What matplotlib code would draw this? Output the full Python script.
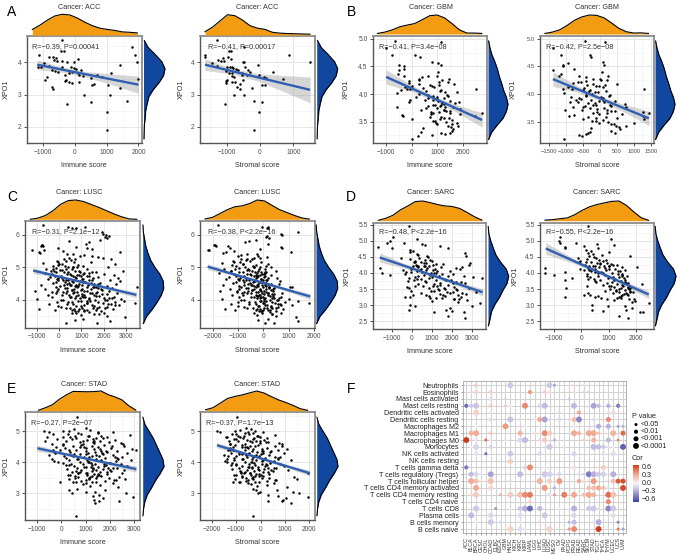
import numpy as np
import matplotlib
matplotlib.use("Agg")
import matplotlib.pyplot as plt
from matplotlib.cm import ScalarMappable
from matplotlib.colors import LinearSegmentedColormap, Normalize

plt.rcParams["font.family"] = ["Liberation Sans", "DejaVu Sans"]

W, H = 677, 556

# ---- scatter data ----
acc_xpo1 = [4.69,4.35,4.35,4.49,4.22,4.00,3.50,4.24,3.86,3.86,
            3.44,4.16,4.17,4.14,4.07,4.05,4.03,4.02,3.98,3.90,
            3.85,3.85,3.82,3.80,3.75,3.72,3.70,3.68,3.68,3.66,
            3.62,3.60,3.58,3.55,3.52,3.45,3.43,3.40,3.38,3.36,
            3.32,3.30,3.30,3.25,3.20,3.17,3.00,2.99,2.80,2.76,
            2.72,2.46,1.91,4.10,3.93,3.70,3.62,3.55,4.00,3.78]
acc_immune = [-390,-440,-340,1800,1880,1950,1970,-1110,-1160,-1060,
              -940,-810,-680,-570,-660,-560,-380,-250,-970,-800,
              -400,-100,-30,50,-700,-620,-520,1150,110,-180,
              -300,150,250,-850,500,-280,-300,-180,130,-80,
              620,560,1050,-700,1430,-670,280,1110,1640,510,
              -230,1030,1030,100,1430,-90,700,850,-10,200]
acc_stromal = [-1290,-880,-940,-480,880,1500,680,-1650,-1000,-850,
               -1000,-1650,-950,-1100,-1270,-1180,-1080,-520,-1450,-1300,
               -900,-450,-800,-720,-650,-1030,380,-940,-830,-540,
               -550,-20,-850,120,180,-500,-1010,-830,-760,-1020,
               -600,50,140,-700,-230,-600,-770,-490,-170,60,
               -1040,-20,-170,-880,-60,-310,-400,-770,-480,-350]

gbm_xpo1 = [4.96,4.95,4.84,4.70,4.70,4.67,4.58,4.57,4.52,4.52,
            4.50,4.45,4.43,4.40,4.36,4.33,4.32,4.30,4.28,4.26,
            4.25,4.22,4.20,4.18,4.16,4.15,4.13,4.12,4.10,4.09,
            4.08,4.06,4.05,4.03,4.02,4.00,3.98,3.97,3.95,3.93,
            3.92,3.90,3.88,3.87,3.85,3.84,3.82,3.80,3.80,3.78,
            3.77,3.76,3.75,3.73,3.72,3.70,3.68,3.67,3.65,3.65,
            3.63,3.62,3.61,3.60,3.59,3.57,3.55,3.54,3.53,3.52,
            3.50,3.48,3.47,3.45,3.43,3.41,3.38,3.36,3.34,3.32,
            3.29,3.28,3.25,3.24,3.18,4.18,4.10,3.90,3.72,3.85,
            4.28,4.22,4.14,4.07,3.99,3.94,3.89,3.83,3.79,3.74,
            3.71,3.66,3.58,3.51,3.46,4.33,4.24,4.17,4.03,3.96,
            3.91,3.86,3.81,3.76,3.69,3.63,3.56,3.42,3.30,4.11]
gbm_immune = [-660,1160,-1010,-770,120,340,780,1020,1130,-480,
              -320,-290,-500,1040,-520,1000,620,400,1460,300,
              1200,1420,-120,1650,700,20,-280,880,-200,2500,
              -400,560,1100,1750,-560,300,1370,840,150,1250,
              650,-60,1500,1040,-120,1700,1280,900,1150,650,
              -590,1600,1000,1900,380,1350,760,1050,1500,2750,
              1900,-380,2480,-325,720,1450,1100,30,1560,850,
              1320,1750,940,1560,1800,1520,460,1600,1560,370,
              1150,1310,800,250,30,300,-50,500,1250,1850,
              300,1050,800,1150,650,1000,850,1200,1100,560,
              1250,850,1150,900,1000,-300,-100,1050,1300,1400,
              1000,1200,850,1300,1480,760,1260,1400,1500,450]
gbm_stromal = [-450,150,-1380,-1150,-300,-250,100,-950,-1080,120,
               -1080,-750,-1380,50,-1155,250,-600,-400,0,200,
               30,-550,-800,-200,150,-20,-930,100,-1090,1285,
               -500,-320,180,-140,-1060,-240,310,-400,-860,90,
               -600,-710,-20,440,-870,-340,730,300,-200,-450,
               -790,780,110,-80,-520,450,-90,1280,200,1440,
               650,-770,1255,-920,-350,-120,1300,-500,80,-230,
               250,-30,1000,320,460,560,-260,590,320,-290,
               445,-400,-620,-520,-1065,500,-810,-250,-1020,-650,
               -200,-650,-100,-300,-420,40,80,-150,330,-280,
               220,-200,180,-100,420,-1200,-400,-380,-60,260,
               -550,120,-120,-500,320,-30,500,780,-340,-480]

lusc_xpo1 = [6.30,6.08,6.02,6.00,5.97,5.92,5.90,5.85,5.80,5.78,
             5.72,5.69,5.66,5.62,5.60,5.58,5.55,5.53,5.50,5.47,
             5.47,5.42,5.40,5.38,5.35,5.32,5.30,5.28,5.26,5.25,
             5.22,5.20,5.18,5.16,5.15,5.12,5.10,5.10,5.08,5.06,
             5.05,5.04,5.02,5.00,5.00,4.98,4.96,4.95,4.94,4.92,
             4.90,4.90,4.88,4.87,4.85,4.84,4.82,4.82,4.80,4.79,
             4.78,4.76,4.75,4.74,4.72,4.72,4.70,4.70,4.68,4.67,
             4.66,4.65,4.64,4.62,4.62,4.60,4.60,4.58,4.57,4.56,
             4.55,4.54,4.53,4.52,4.50,4.50,4.48,4.47,4.46,4.45,
             4.44,4.43,4.42,4.40,4.40,4.38,4.38,4.36,4.35,4.34,
             4.33,4.32,4.31,4.30,4.30,4.28,4.27,4.26,4.25,4.24,
             4.23,4.22,4.21,4.20,4.20,4.18,4.17,4.16,4.15,4.14,
             4.12,4.12,4.10,4.10,4.08,4.07,4.06,4.05,4.04,4.02,
             4.00,4.00,3.98,3.97,3.96,3.95,3.94,3.92,3.92,3.90,
             3.90,3.88,3.87,3.86,3.85,3.84,3.82,3.80,3.79,3.78,
             3.76,3.75,3.74,3.72,3.72,3.70,3.68,3.67,3.66,3.65,
             3.62,3.60,3.58,3.55,3.52,3.47,3.40,3.37,3.34,3.27,
             3.27,5.68,5.64,5.53,4.40,3.90,4.26,3.71,5.45,4.01,
             6.25,6.22,6.20,6.24,5.10,5.05,5.00,4.96,4.92,4.88,
             4.86,4.84,4.80,4.78,4.76,4.74,4.72,4.70,4.68,4.66,
             4.64,4.62,4.60,4.58,4.56,4.54,4.52,4.50,4.48,4.46,
             4.44,4.42,4.40,4.38,4.36,4.34,4.32,4.30,4.28,4.26,
             4.24,4.22,4.20,4.18,4.16,4.14,4.12,4.10,4.08,4.06,
             4.04,4.02,4.00,3.98,3.96,3.94,3.92,3.90,3.88,3.86,
             3.84,3.82,3.80,3.78,3.76,3.74,3.72,3.70,3.68,3.66,
             4.95,4.85,4.75,4.65,4.55,4.45,4.35,4.25,4.15,4.05,
             5.02,4.90,4.82,4.72,4.62,4.52,4.42,4.32,4.22,4.12,
             3.95,3.85,3.75,3.65,3.55,3.60,3.50,5.15,5.25,5.35]
lusc_immune = [-690,1900,1950,2080,2230,2050,2150,1820,450,1350,
               1200,-760,-720,780,1260,-60,1450,-1180,200,-910,
               2730,380,620,1100,950,1750,440,1980,2300,230,
               540,-80,300,1420,680,-730,120,2510,850,-40,
               1050,-280,400,820,2180,-150,580,-560,1250,60,
               700,2850,-350,950,1650,240,1120,-610,480,2020,
               360,2440,880,-190,1330,620,-420,1760,140,2650,
               780,1060,-500,2290,420,1480,-60,930,2710,260,
               1180,640,1850,-260,340,1560,2560,740,-780,1030,
               490,2120,870,-120,1260,1640,3470,280,2380,660,
               1420,-610,960,1930,560,2240,1120,380,-320,1700,
               820,2600,-150,1380,620,1040,2120,440,-490,1560,
               1800,760,2460,1150,-330,520,1340,2230,950,2750,
               1620,180,2070,860,2900,1400,-100,2510,600,1240,
               1960,360,2320,-450,1130,2680,780,1560,100,2140,
               1020,1700,480,2400,880,1260,-180,560,1860,720,
               1350,2020,780,1540,960,2940,1070,735,2280,310,
               1700,-740,-800,-650,1500,3400,-1050,-900,-850,-1000,
               400,560,780,1180,-20,250,610,-260,130,880,
               -120,420,1060,-310,530,1240,90,700,1500,-40,
               1010,310,1340,600,-150,1160,460,880,1720,240,
               1290,30,790,1550,380,1020,1860,560,1240,-90,
               670,1480,310,1930,860,140,1660,500,1090,2380,
               720,1320,2130,90,1000,1750,410,1240,2200,640,
               1490,-50,960,1780,320,2060,680,1120,1640,860,
               300,1480,800,-80,1050,540,1730,190,1130,2000,
               640,-200,1330,980,200,1410,720,-30,1640,1010,
               1270,2480,1520,1130,1780,590,2120,-30,720,1480]
lusc_stromal = [-1800,1360,680,720,160,100,240,-300,-560,-720,
                170,-1930,-1380,700,720,-1330,-140,-2190,-1160,-1480,
                1075,-640,-240,-870,-1000,140,-370,-130,-450,-880,
                -700,-1180,-540,-100,-920,-1620,-800,200,-300,-1240,
                120,-1060,-350,-720,320,-960,-180,-1560,60,-640,
                -430,480,-1260,-90,100,-820,-260,-1740,-510,-40,
                -650,310,-130,-1080,-360,-220,-1340,20,-700,520,
                -290,-90,-1460,160,-560,-20,-980,-330,640,-760,
                -120,-410,60,-1190,-620,180,600,-270,-1600,-50,
                -480,90,-220,-900,-30,240,1150,-690,410,-350,
                110,-1330,-150,290,-430,370,-80,-590,-1040,120,
                -210,720,-860,-40,-500,30,350,-300,-1250,190,
                380,-260,680,-10,-950,-380,70,420,-150,1000,
                260,-780,560,-90,1360,120,-1010,860,-330,30,
                470,-560,650,-1290,60,1130,-200,310,-750,590,
                20,340,-420,770,-130,190,-1100,-300,480,-90,
                260,680,-60,330,-250,1300,180,-200,1360,80,
                410,-1900,-1850,-2150,1050,1820,-1700,-1510,-1600,-1650,
                -60,200,130,190,-820,-420,-120,-1100,-550,-230,
                -980,-330,40,-1150,-480,60,-780,-240,190,-930,
                -100,-700,120,-350,-1060,-70,-520,-200,290,-760,
                80,-950,-280,230,-600,-130,380,-430,10,-1040,
                -300,170,-640,420,-180,-820,270,-470,-90,610,
                -260,40,530,-870,-120,340,-550,-20,560,-300,
                150,-1000,-190,300,-640,500,-240,-30,260,-180,
                -620,70,-290,-1020,-170,-430,220,-780,-120,340,
                -380,-1280,50,-250,-800,100,-360,-960,190,-200,
                30,700,150,-60,340,-370,480,-1150,-640,-200]

sarc_xpo1 = [5.45,5.12,5.05,4.99,4.94,4.92,4.90,4.87,4.83,4.80,
             4.78,4.76,4.70,4.68,4.65,4.62,4.60,4.56,4.54,4.52,
             4.48,4.45,4.42,4.40,4.38,4.36,4.34,4.32,4.30,4.28,
             4.27,4.25,4.24,4.22,4.20,4.20,4.18,4.17,4.15,4.15,
             4.13,4.12,4.10,4.10,4.08,4.06,4.05,4.03,4.01,4.00,
             3.98,3.97,3.95,3.93,3.92,3.90,3.88,3.86,3.85,3.83,
             3.82,3.80,3.78,3.77,3.75,3.73,3.72,3.70,3.68,3.67,
             3.65,3.62,3.60,3.58,3.57,3.55,3.53,3.52,3.50,3.48,
             3.47,3.45,3.43,3.42,3.40,3.38,3.37,3.35,3.33,3.32,
             3.30,3.28,3.26,3.24,3.22,3.20,3.18,3.15,3.12,3.10,
             3.07,3.00,2.98,2.98,2.90,2.86,2.85,2.83,2.78,2.78,
             2.66,2.60,4.20,4.01,3.93,4.03,3.77,3.53,3.24,4.18,
             4.46,4.41,4.35,4.31,4.26,4.21,4.16,4.11,4.07,4.02,
             3.96,3.91,3.87,3.84,3.79,3.74,3.69,3.63,3.59,3.54,
             3.49,3.44,3.39,3.34,3.29,3.23,3.19,4.33,4.23,4.13,
             4.09,3.99,3.89,3.81,3.71,3.61,3.51,3.41,3.31,3.21]
sarc_immune = [-120,-920,240,-1080,-1220,-380,500,650,1390,-1670,
               1790,-1000,-80,60,-100,2670,250,320,2720,760,
               800,-560,-100,650,150,1000,450,2920,720,1200,
               1560,200,2840,50,880,600,1450,320,2230,-1590,
               2400,450,-420,1040,730,1900,260,-300,-1500,1200,
               2050,-360,620,-1090,1350,2600,180,3080,840,3510,
               1620,480,1200,1950,-200,2230,720,1400,2650,310,
               1110,1830,560,1260,-240,2100,2850,850,1670,1340,
               2280,-40,940,1780,3200,480,2520,1400,730,2330,
               60,1680,2450,-360,1230,2130,2380,2750,1000,2300,
               3400,-100,150,3000,1890,-120,1720,2000,1130,2600,
               1800,2670,300,1100,900,-50,100,-150,-100,2500,
               350,900,150,620,1050,280,780,-50,1280,520,
               1500,300,1000,-150,1720,650,2050,1420,180,1600,
               2200,1100,1900,2700,850,1500,2100,100,680,1150,
               400,950,1800,250,2450,1050,1300,2050,1550,900]
sarc_stromal = [245,-780,1090,-800,-790,-200,560,1210,100,-600,
                620,-580,170,360,1020,250,420,760,300,1790,
                480,-130,220,640,-60,800,340,960,570,1100,
                700,150,1300,420,850,1010,1480,640,260,-1315,
                1220,490,100,900,1600,340,1420,740,-1315,1130,
                1500,220,860,-1010,1660,600,1380,320,990,1550,
                480,1250,700,-585,1470,1120,540,1640,930,2220,
                1300,780,1540,1020,1700,1200,-560,1450,1040,1620,
                1290,1780,880,1380,1900,1180,250,1560,320,1700,
                110,1450,520,-610,720,960,1940,1200,1980,1870,
                2465,400,980,1590,1850,390,1650,780,2160,2260,
                1400,1730,1000,600,1500,-585,1200,1800,1400,2040,
                540,900,180,680,1150,300,860,-40,1330,520,
                1350,220,1150,-350,1600,520,1700,1500,200,1700,
                1750,1290,1640,1680,620,1440,1750,-100,520,1000,
                280,800,1500,260,1620,1100,1380,1800,1500,1300]

stad_xpo1 = [5.45,5.10,5.08,5.05,5.02,5.00,5.00,4.99,4.97,4.96,
             4.95,4.93,4.92,4.90,4.88,4.86,4.85,4.83,4.81,4.80,
             4.78,4.77,4.75,4.73,4.72,4.70,4.68,4.67,4.65,4.64,
             4.62,4.60,4.59,4.57,4.56,4.54,4.52,4.51,4.50,4.48,
             4.47,4.45,4.44,4.42,4.41,4.40,4.38,4.37,4.35,4.34,
             4.33,4.31,4.30,4.29,4.27,4.26,4.25,4.23,4.22,4.20,
             4.19,4.18,4.16,4.15,4.14,4.12,4.11,4.10,4.08,4.07,
             4.06,4.05,4.03,4.02,4.00,3.99,3.98,3.96,3.95,3.94,
             3.92,3.91,3.90,3.88,3.87,3.86,3.84,3.83,3.82,3.80,
             3.79,3.78,3.76,3.75,3.74,3.72,3.71,3.70,3.68,3.67,
             3.66,3.64,3.62,3.61,3.60,3.58,3.57,3.55,3.54,3.52,
             3.50,3.48,3.46,3.45,3.43,3.40,3.38,3.36,3.35,3.32,
             3.30,3.28,3.25,3.20,3.15,3.12,3.10,3.05,3.03,3.02,
             3.00,2.95,2.90,2.87,2.84,2.78,2.75,2.75,2.70,2.28,
             4.90,4.84,4.79,4.74,4.69,4.63,4.58,4.53,4.49,4.43,
             4.39,4.36,4.32,4.28,4.24,4.21,4.17,4.13,4.09,4.04,
             4.01,3.97,3.93,3.89,3.85,3.81,3.77,3.73,3.69,3.65,
             3.63,3.59,3.56,3.53,3.49,3.47,3.44,3.41,3.37,3.33,
             4.86,4.76,4.66,4.56,4.46,4.36,4.26,4.16,4.06,3.96,
             3.86,3.76,3.66,3.56,4.80,4.70,4.60,4.50,4.40,4.30,
             4.20,4.10,4.00,3.90,3.80,3.70,3.60,3.50,3.44,3.38]
stad_immune = [650,1000,500,1200,300,-715,80,2120,-520,1500,
               700,1500,-350,800,2830,1100,1650,350,1900,-620,
               620,1450,-180,1050,2200,1600,-680,200,1300,750,
               2450,-400,900,1750,50,1250,2600,480,1500,-240,
               1000,2050,2940,1350,3090,600,-60,1850,2300,350,
               1400,-250,2700,1100,780,1700,-510,2150,400,1550,
               1250,950,2500,200,1800,-400,640,1450,2900,1050,
               1650,-300,2250,750,1150,60,2000,1400,880,2450,
               1250,330,1850,2700,520,1500,1000,2300,650,1300,
               1700,210,1450,2600,820,1250,2050,430,1600,1000,
               2500,680,1350,1900,370,1050,1650,560,2380,1200,
               580,1450,2650,320,1020,1800,480,-65,1250,2150,
               900,1600,1200,2350,650,325,1800,1400,1000,2660,
               450,1550,1300,2960,1700,1365,2400,1560,1390,585,
               250,1120,1700,420,900,1350,60,2100,760,1580,
               300,1020,1900,520,1450,100,1150,2300,700,1620,
               -150,1230,400,1780,920,2150,1320,610,1880,1060,
               1520,260,1280,700,1950,1120,2240,820,1430,1020,
               540,1300,1950,820,150,1650,1000,2200,300,1780,
               1220,2000,700,1480,60,1360,2550,940,-340,1680,
               480,2350,1080,180,1920,780,1540,1150,2180,600]
stad_stromal = [-975,-610,-400,-840,-230,-1805,-1060,100,-1660,-500,
                -300,-660,-1000,-480,580,-120,-700,-850,-30,-1400,
                -730,-280,-1100,-560,140,-40,-1300,-920,-370,220,
                780,-1250,-640,-90,-1040,-420,900,-210,-760,-1120,
                -520,260,1100,-330,700,-640,-1360,80,450,-880,
                -150,-1220,950,-480,-780,30,-1500,340,-620,-60,
                -270,-570,820,-1080,190,-1400,-720,-340,1250,-200,
                120,-1480,560,-660,-360,-1180,400,60,-480,810,
                -230,-1000,250,980,-780,-100,-480,640,-900,-340,
                150,-1160,-60,1120,-560,-280,500,-820,90,-420,
                1975,-700,-180,340,-1000,-400,120,-760,1380,-300,
                -620,40,1500,-1050,-500,280,-850,-1130,-240,560,
                -380,250,-160,1100,-300,-200,680,1340,-40,1600,
                -100,300,720,1975,1060,915,900,290,1245,-320,
                -1180,-140,260,-1000,-420,-40,-1280,580,-640,60,
                -1130,-350,400,-880,-190,-1340,-300,720,-760,40,
                -1400,-260,-1020,190,-530,560,-110,-830,300,-440,
                -80,-1100,-240,-780,350,-320,620,-620,-60,-500,
                -950,-300,320,-760,-1260,120,-500,600,-1100,220,
                -340,430,-820,-60,-1420,-200,870,-560,-1250,110,
                -1000,730,-400,-1200,300,-660,20,-360,580,-900]

# ---- marginal densities, evenly spaced over each data range (scaled to peak) ----
acc_immune_dens = [.27,.47,.72,.92,1.0,.97,.82,.62,.45,.33,.27,.22,.15,.13,.10]
acc_stromal_dens = [.16,.38,.68,.98,.93,.72,.45,.33,.27,.13,.09,.07,.06,.05,.04]
acc_xpo1_dens = [.02,.03,.04,.08,.10,.17,.25,.45,.72,.93,1.0,.85,.55,.22,.04]
gbm_immune_dens = [.03,.10,.22,.38,.47,.55,.75,.96,1.0,.85,.55,.22,.05,.05,.03]
gbm_stromal_dens = [.03,.10,.22,.45,.72,.90,1.0,.98,.85,.58,.30,.12,.05,.06,.03]
gbm_xpo1_dens = [.03,.18,.45,.75,.92,1.0,.92,.78,.68,.56,.47,.35,.20,.10,.03]
lusc_immune_dens = [.0,.06,.20,.45,.78,.97,1.0,.92,.77,.62,.45,.28,.13,.02,.0]
lusc_stromal_dens = [.02,.10,.30,.50,.65,.70,.82,1.0,.95,.72,.50,.35,.20,.07,.01]
lusc_xpo1_dens = [.03,.18,.45,.68,.88,1.0,.98,.82,.58,.38,.25,.15,.09,.03,.01]
sarc_immune_dens = [.02,.12,.28,.55,.75,.97,1.0,.92,.82,.75,.72,.62,.42,.20,.03]
sarc_stromal_dens = [.03,.05,.10,.14,.30,.52,.70,.82,.90,.98,1.0,.78,.45,.15,.02]
sarc_xpo1_dens = [.02,.10,.17,.33,.55,.72,.92,1.0,.88,.60,.38,.25,.13,.04,.01]
stad_immune_dens = [.02,.15,.30,.58,.80,.98,.97,.96,.97,1.0,.82,.70,.55,.25,.03]
stad_stromal_dens = [.05,.15,.38,.62,.72,.80,.90,1.0,.90,.72,.55,.42,.27,.10,.02]
stad_xpo1_dens = [.01,.04,.10,.22,.42,.60,.82,1.0,.95,.80,.65,.50,.30,.10,.01]

# ---- regression fits: end points and confidence half-widths along the line ----
fits = {
    "A1": ((-1170, 2000), (3.93, 3.31), [.15, .08, .09, .17, .27]),
    "A2": ((-1650, 1500), (3.93, 3.15), [.18, .09, .11, .25, .40]),
    "B1": ((-1000, 2750), (4.31, 3.53), [.13, .06, .04, .07, .13]),
    "B2": ((-1380, 1440), (4.27, 3.56), [.13, .06, .04, .07, .13]),
    "C1": ((-1150, 3450), (4.90, 4.15), [.09, .04, .03, .05, .09]),
    "C2": ((-2200, 1850), (5.02, 4.10), [.09, .04, .03, .05, .09]),
    "D1": ((-1600, 3550), (4.48, 3.40), [.14, .07, .05, .07, .11]),
    "D2": ((-1300, 2470), (4.76, 3.33), [.18, .08, .05, .07, .12]),
    "E1": ((-1000, 3100), (4.45, 3.78), [.10, .05, .04, .06, .10]),
    "E2": ((-1800, 2030), (4.55, 3.65), [.09, .05, .04, .05, .09]),
}

# ---- bubble panel: (cancer, correlation, p level 1..4) ----
cancers = ["ACC","BLCA","BRCA","CESC","CHOL","COAD","DLBC","ESCA","GBM","HNSC","KICH",
           "KIRC","KIRP","LAML","LGG","LIHC","LUAD","LUSC","MESO","OV","PAAD","PCPG",
           "PRAD","READ","SARC","SKCM","STAD","TGCT","THCA","THYM","UCEC","UCS","UVM"]
cell_types = ["Neutrophils","Eosinophils","Mast cells activated","Mast cells resting",
              "Dendritic cells activated","Dendritic cells resting","Macrophages M2",
              "Macrophages M1","Macrophages M0","Monocytes","NK cells activated",
              "NK cells resting","T cells gamma delta","T cells regulatory (Tregs)",
              "T cells follicular helper","T cells CD4 memory activated",
              "T cells CD4 memory resting","T cells CD4 naive","T cells CD8","Plasma cells",
              "B cells memory","B cells naive"]
neutrophils = [("BRCA",.12,2),("HNSC",-.2,4),("LUSC",-.2,4),("MESO",-.35,1),("PRAD",.1,1),("SARC",-.1,1)]
eosinophils = [("BLCA",.08,1),("BRCA",.1,2),("COAD",.12,2),("LAML",.35,2),("LUAD",.1,2),("LUSC",.07,1),
               ("PRAD",.08,1),("SARC",-.15,1),("SKCM",.15,1)]
mast_activated = [("COAD",-.12,2),("GBM",-.15,1),("PCPG",-.2,1)]
mast_resting = [("ACC",-.55,2),("BLCA",-.2,2),("BRCA",-.22,4),("COAD",.12,2),("GBM",.15,1),("HNSC",-.06,1),
                ("KIRP",.4,4),("LIHC",-.15,2),("LUAD",-.25,4),("PRAD",-.25,4),("STAD",-.35,4),("TGCT",-.25,2),
                ("THYM",-.3,2),("UCS",-.5,2)]
dc_activated = [("BRCA",.12,4),("COAD",.06,1),("OV",.1,1),("READ",.3,2),("THYM",-.12,1),("UCEC",.1,2)]
dc_resting = [("COAD",-.12,2),("HNSC",-.22,4),("KIRC",.08,1),("LGG",-.08,1),("LIHC",.3,3),("LUAD",-.35,4),
              ("LUSC",-.1,1),("OV",-.12,2),("PRAD",.22,3),("READ",-.45,4),("STAD",-.1,2),("THYM",.4,3)]
macro_m2 = [("BRCA",-.03,1),("GBM",.35,4),("KIRP",-.07,1),("LIHC",-.08,1),("PRAD",-.06,1),("TGCT",-.3,3),
            ("THYM",-.3,3),("UCS",-.35,1),("UVM",-.3,1)]
macro_m1 = [("BLCA",.25,3),("BRCA",.3,4),("COAD",.12,2),("KIRC",.25,3),("LGG",.07,1),("LUAD",.4,4),("LUSC",.15,3),
            ("PRAD",.3,4),("READ",.25,2),("SKCM",.3,4),("STAD",.3,4),("TGCT",.2,1),("THCA",.08,1),("UCEC",.25,4),
            ("UVM",.5,3)]
macro_m0 = [("ACC",.7,4),("BRCA",.05,1),("CHOL",.5,1),("COAD",.05,1),("GBM",-.1,1),("KIRC",-.15,3),("KIRP",-.25,4),
            ("LIHC",.1,1),("LUAD",.15,3),("MESO",-.3,1),("SARC",.12,1),("STAD",.25,3),("THYM",-.25,3),("UCS",.4,1)]
monocytes = [("BLCA",-.05,1),("BRCA",-.15,4),("COAD",-.15,2),("LUSC",-.2,4),("PAAD",-.1,1),("STAD",-.25,4),
             ("TGCT",-.25,3),("THCA",-.2,2),("THYM",-.1,1),("UCEC",-.05,1),("UVM",-.6,4)]
nk_activated = [("BRCA",-.1,2),("CHOL",-.55,1),("HNSC",-.2,4),("LIHC",-.15,2),("PRAD",-.15,3),("THCA",-.1,2),("UCEC",-.12,3)]
nk_resting = [("HNSC",.15,3)]
t_gamma_delta = [("ACC",-.5,2),("KIRP",-.15,2),("LAML",.4,4),("LIHC",-.1,1),("LUAD",-.05,1),("PRAD",.06,2),("THCA",.15,3)]
t_regs = [("BLCA",-.25,3),("BRCA",-.15,3),("CESC",-.08,1),("COAD",-.35,4),("KIRC",-.25,4),("LUAD",-.2,4),("LUSC",-.15,4),
          ("OV",-.15,2),("READ",-.12,1),("SARC",-.15,1),("SKCM",-.5,4),("STAD",-.3,4),("TGCT",-.2,3),("THCA",-.18,3),
          ("UCEC",-.3,4)]
t_helper = [("BLCA",.3,4),("BRCA",.2,3),("CESC",.08,1),("COAD",.2,4),("HNSC",.08,1),("LIHC",.25,4),("LUSC",.15,3),
            ("OV",.35,4),("READ",.3,2),("SARC",.08,1),("STAD",.35,4),("UCEC",.2,3),("UCS",.55,3),("UVM",.6,3)]
cd4_activated = [("BRCA",.3,4),("COAD",.1,3),("LUAD",.35,4),("MESO",-.3,1),("SKCM",.2,2),("STAD",.2,3),("TGCT",.3,3),
                 ("THCA",.2,2),("THYM",-.12,1),("UVM",.6,4)]
cd4_resting = [("BLCA",.1,1),("BRCA",.15,4),("ESCA",.25,1),("HNSC",.15,4),("KIRC",.2,4),("KIRP",.4,4),("LAML",.45,4),
               ("LUSC",-.1,2),("MESO",.35,1),("PAAD",.45,4),("PRAD",.3,4),("SARC",.2,2),("SKCM",.3,4),("STAD",.25,3),
               ("THYM",.5,4),("UCEC",.2,4)]
cd4_naive = [("LAML",.15,1),("THYM",.4,3)]
t_cd8 = [("BRCA",-.2,4),("DLBC",-.4,1),("HNSC",-.06,1),("KIRC",-.2,3),("KIRP",-.3,4),("LAML",-.55,4),("LIHC",-.25,3),
         ("OV",-.06,1),("PRAD",-.3,4),("SKCM",-.2,3),("STAD",-.2,4),("TGCT",-.1,1),("THYM",-.45,4),("UCEC",-.2,4)]
plasma = [("BLCA",-.25,4),("COAD",-.15,3),("KIRC",-.12,3),("LUAD",-.2,4),("PRAD",-.15,3),("UCEC",-.12,3)]
b_memory = [("BRCA",-.05,1),("COAD",-.2,4),("ESCA",-.15,1),("KIRC",.06,1),("LIHC",.12,1),("PCPG",-.3,1),("PRAD",-.25,3),
            ("STAD",-.1,1),("TGCT",-.3,4),("UCS",-.45,1)]
b_naive = [("HNSC",.12,4),("KIRC",-.12,3),("KIRP",-.08,1),("LUSC",.12,4),("PCPG",.35,1),("PRAD",.4,4),("TGCT",.65,4),
           ("UCS",.45,1),("UVM",-.35,1)]
cell_rows = [neutrophils, eosinophils, mast_activated, mast_resting, dc_activated, dc_resting, macro_m2,
             macro_m1, macro_m0, monocytes, nk_activated, nk_resting, t_gamma_delta, t_regs, t_helper,
             cd4_activated, cd4_resting, cd4_naive, t_cd8, plasma, b_memory, b_naive]
p_labels = ["<0.05", "<0.01", "<0.001", "<0.0001"]
p_sizes = [4.7, 9.0, 13.0, 18.0]
cor_ticks = [-0.6, -0.3, 0.0, 0.3, 0.6]

ORANGE = "#F39C12"
BLUE = "#11479E"
cor_cmap = LinearSegmentedColormap.from_list(
    "cor", [(0, "#3B45A8"), (0.25, "#A69DD6"), (0.5, "#F7F5F8"), (0.75, "#F3A48C"), (1, "#CF3A18")])

fig = plt.figure(figsize=(W / 100, H / 100), dpi=100)


def box(left, top, right, bottom):
    return [left / W, 1 - bottom / H, (right - left) / W, (bottom - top) / H]


def put(x, y, s, **kw):
    kw.setdefault("ha", "center")
    kw.setdefault("va", "center")
    kw.setdefault("fontsize", 5.2)
    fig.text(x / W, 1 - y / H, s, **kw)


def joint(key, pos, top_h, right_x, xlim, ylim, xs, ys, xticks, yticks, top_dens, right_dens, note, note_xy,
          title, title_xy, xlabel, ylabel_x, tick_size=4.8):
    left, top, right, bottom = pos
    ax = fig.add_axes(box(left, top, right, bottom))
    ax.set_xlim(xlim)
    ax.set_ylim(ylim)
    ax.set_xticks(xticks)
    ax.set_yticks(yticks)
    xstep = xticks[1] - xticks[0]
    ystep = yticks[1] - yticks[0]
    ax.set_xticks(np.arange(xticks[0] - xstep / 2, xlim[1], xstep), minor=True)
    ax.set_yticks(np.arange(yticks[0] - ystep / 2, ylim[1], ystep), minor=True)
    ax.grid(True, which="major", color="#e6e6e6", lw=0.7)
    ax.grid(True, which="minor", color="#f0f0f0", lw=0.4)
    ax.set_axisbelow(True)
    ax.tick_params(which="minor", length=0)
    ax.tick_params(which="major", length=2, width=0.6, pad=2, labelsize=tick_size, color="#333333", labelcolor="#4d4d4d")
    for name, sp in ax.spines.items():
        sp.set_color("#555555" if name in ("left", "bottom") else "#8c8c8c")
        sp.set_linewidth(1.0 if name in ("left", "bottom") else 1.3)

    fx, fy, ci = fits[key]
    band_x = np.linspace(fx[0], fx[1], len(ci))
    band_y = np.interp(band_x, fx, fy)
    ax.fill_between(band_x, band_y - np.array(ci), band_y + np.array(ci), color="#999999", alpha=0.4, lw=0, zorder=1)
    ax.scatter(xs, ys, s=3.2, c="black", linewidths=0, zorder=2)
    ax.plot(fx, fy, color="#2F5FB3", lw=1.7, zorder=3, solid_capstyle="butt")
    ax.text(note_xy[0] / W, 1 - note_xy[1] / H, note, transform=fig.transFigure, fontsize=5.2, color="#333333",
            ha="left", va="center", zorder=1.5)

    top_ax = fig.add_axes(box(left, top_h[0], right, top_h[1]))
    top_ax.set_xlim(xlim)
    top_ax.set_ylim(0, 1)
    tx = np.linspace(min(xs), max(xs), len(top_dens))
    top_ax.fill_between(tx, 0, top_dens, color=ORANGE, lw=0)
    top_ax.plot(tx, top_dens, color="black", lw=0.8, clip_on=False)
    top_ax.axis("off")

    right_ax = fig.add_axes(box(right_x[0], top, right_x[1], bottom))
    right_ax.set_ylim(ylim)
    right_ax.set_xlim(0, 1)
    ry = np.linspace(min(ys), max(ys), len(right_dens))
    right_ax.fill_betweenx(ry, 0, right_dens, color=BLUE, lw=0)
    right_ax.plot(right_dens, ry, color="black", lw=0.8, clip_on=False)
    right_ax.axis("off")

    put(title_xy[0], title_xy[1], title, color="#333333")
    put((left + right) / 2, bottom + 22.5, xlabel, color="#333333")
    put(ylabel_x, (top + bottom) / 2, "XPO1", rotation=90, color="#333333")


joint("A1", (26.7, 36, 141.7, 143), (14.3, 35), (143.5, 165), (-1328, 2101), (1.79, 4.82), acc_immune, acc_xpo1,
      [-1000, 0, 1000, 2000], [2, 3, 4], acc_immune_dens, acc_xpo1_dens, "R=−0.39, P=0.00041", (32, 47),
      "Cancer: ACC", (79.3, 7.5), "Immune score", 6.7)
joint("A2", (200, 36, 315, 143), (14.3, 35), (316.7, 337.7), (-1801, 1651), (1.79, 4.82), acc_stromal, acc_xpo1,
      [-1000, 0, 1000], [2, 3, 4], acc_stromal_dens, acc_xpo1_dens, "R=−0.41, P=0.00017", (207.7, 47),
      "Cancer: ACC", (256.7, 7.5), "Stromal score", 181)
joint("B1", (373.3, 36, 486.7, 143), (15, 34), (488, 508), (-1159, 2928), (3.114, 5.05), gbm_immune, gbm_xpo1,
      [-1000, 0, 1000, 2000], [3.5, 4.0, 4.5, 5.0], gbm_immune_dens, gbm_xpo1_dens, "R=−0.41, P=3.4e−08", (379, 46.5),
      "Cancer: GBM", (430.7, 7.5), "Immune score", 346.5)
joint("B2", (540.3, 36, 654, 143), (15, 34), (655, 675), (-1505, 1590), (3.114, 5.05), gbm_stromal, gbm_xpo1,
      [-1500, -1000, -500, 0, 500, 1000, 1500], [3.5, 4.0, 4.5, 5.0], gbm_stromal_dens, gbm_xpo1_dens,
      "R=−0.42, P=2.5e−08", (545.7, 46.5), "Cancer: GBM", (596.7, 7.5), "Stromal score", 513.5, tick_size=4.2)
joint("C1", (25.3, 221, 140, 327.7), (200, 219.3), (142.7, 163.7), (-1397, 3611), (3.14, 6.425), lusc_immune, lusc_xpo1,
      [-1000, 0, 1000, 2000, 3000], [4, 5, 6], lusc_immune_dens, lusc_xpo1_dens, "R=−0.31, P=2.1e−12", (32.3, 231.3),
      "Cancer: LUSC", (79.3, 192.3), "Immune score", 6.7)
joint("C2", (200, 221, 315, 327.7), (200, 219.3), (316, 337.7), (-2385, 2038), (3.14, 6.425), lusc_stromal, lusc_xpo1,
      [-2000, -1000, 0, 1000, 2000], [4, 5, 6], lusc_stromal_dens, lusc_xpo1_dens, "R=−0.38, P<2.2e−16", (207.7, 231.3),
      "Cancer: LUSC", (257, 192.3), "Stromal score", 181)
joint("D1", (373.3, 222.7, 486, 329.3), (201, 220.7), (488, 508.7), (-1920, 3715), (2.497, 5.56), sarc_immune, sarc_xpo1,
      [-1000, 0, 1000, 2000, 3000], [2.5, 3.0, 3.5, 4.0, 4.5, 5.0, 5.5], sarc_immune_dens, sarc_xpo1_dens,
      "R=−0.48, P<2.2e−16", (379.3, 231.3), "Cancer: SARC", (430.7, 192.3), "Immune score", 347.5)
joint("D2", (540.3, 222.7, 654, 329.3), (201, 220.7), (655, 676), (-1485, 2664), (2.497, 5.56), sarc_stromal, sarc_xpo1,
      [-1000, 0, 1000, 2000], [2.5, 3.0, 3.5, 4.0, 4.5, 5.0, 5.5], sarc_stromal_dens, sarc_xpo1_dens,
      "R=−0.55, P<2.2e−16", (545.7, 231.3), "Cancer: SARC", (596.7, 192.3), "Stromal score", 515)
joint("E1", (25.3, 412.3, 140, 520), (391, 410.7), (142.7, 164), (-1227, 3254), (2.14, 5.61), stad_immune, stad_xpo1,
      [-1000, 0, 1000, 2000, 3000], [3, 4, 5], stad_immune_dens, stad_xpo1_dens, "R=−0.27, P=2e−07", (30.7, 422.7),
      "Cancer: STAD", (84, 384), "Immune score", 6.7)
joint("E2", (200, 412.3, 315, 520), (391, 410.7), (316.7, 338), (-2011, 2248), (2.14, 5.61), stad_stromal, stad_xpo1,
      [-2000, -1000, 0, 1000, 2000], [3, 4, 5], stad_stromal_dens, stad_xpo1_dens, "R=−0.37, P=1.7e−13", (205.7, 422.7),
      "Cancer: STAD", (257.3, 384), "Stromal score", 181)

for letter, x, y in [("A", 12, 12.5), ("B", 351, 12.5), ("C", 12, 197), ("D", 351, 197), ("E", 12, 389), ("F", 351, 389)]:
    put(x, y, letter, fontsize=10, color="black")

# bubble panel
norm = Normalize(-0.71, 0.66)
ax_f = fig.add_axes(box(462.7, 381, 626, 533.3))
ax_f.set_xlim(-0.73, 32.6)
ax_f.set_ylim(21.62, -0.62)
ax_f.set_xticks(range(len(cancers)))
ax_f.set_xticklabels(cancers, rotation=90, fontsize=3.8, color="#333333")
ax_f.set_yticks(range(len(cell_types)))
ax_f.set_yticklabels(cell_types, fontsize=5.1, color="#222222")
ax_f.tick_params(length=1.5, width=0.4, pad=1.5, color="#555555")
ax_f.grid(True, color="#d2d2d2", lw=0.7)
ax_f.set_axisbelow(True)
for sp in ax_f.spines.values():
    sp.set_color("#b0b0b0")
    sp.set_linestyle((0, (2, 1)))
    sp.set_linewidth(0.7)
for r, row in enumerate(cell_rows):
    cols = [cancers.index(c[0]) for c in row]
    cors = [c[1] for c in row]
    sizes = [p_sizes[c[2] - 1] for c in row]
    ax_f.scatter(cols, [r] * len(row), s=sizes, c=cors, cmap=cor_cmap, norm=norm, linewidths=0, zorder=3)

# p value legend
put(632, 416.7, "P value", ha="left", fontsize=5.2, color="#222222")
ax_p = fig.add_axes(box(630, 421, 642, 449.5))
ax_p.set_xlim(-1, 1)
ax_p.set_ylim(3.5, -0.5)
ax_p.scatter([0] * 4, range(4), s=p_sizes, c="black", linewidths=0)
ax_p.axis("off")
for i, lab in enumerate(p_labels):
    put(641, 424.7 + i * 7.1, lab, ha="left", fontsize=5.2, color="#222222")

# correlation colour bar
put(632, 458.7, "Cor", ha="left", fontsize=5.2, color="#222222")
cax = fig.add_axes(box(632.7, 465, 639.3, 501.7))
cb = fig.colorbar(ScalarMappable(norm=norm, cmap=cor_cmap), cax=cax)
cb.set_ticks(cor_ticks)
cb.ax.set_yticklabels([f"{t:.1f}".replace("-", "−") for t in cor_ticks], fontsize=5.2, color="#222222")
cb.ax.tick_params(length=0, pad=1.5)
cb.outline.set_visible(False)

fig.savefig("out.png", dpi=100)
